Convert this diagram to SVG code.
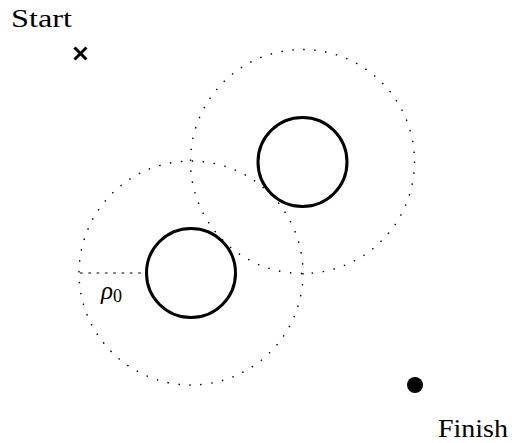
<svg xmlns="http://www.w3.org/2000/svg" width="514" height="443" viewBox="0 0 514 443">
<style>
.obs{fill:none;stroke:#000;stroke-width:3}
.inf{fill:none;stroke:#000;stroke-width:1.4;stroke-dasharray:1.5 9.5}
.rad{fill:none;stroke:#000;stroke-width:1.2;stroke-dasharray:2.7 5.6}
.lbl{font-family:"Liberation Serif","DejaVu Serif",serif;font-size:25px;fill:#000}
</style>
<rect width="514" height="443" fill="#fff"/>
<g id="start">
<text class="lbl" x="11" y="27" textLength="61" lengthAdjust="spacingAndGlyphs">Start</text>
<path d="M74.5 47.5 L86.5 59.5 M86.5 47.5 L74.5 59.5" stroke="#000" stroke-width="3" fill="none"/>
</g>
<g id="obstacle1">
<circle class="inf" cx="191" cy="273" r="112"/>
<circle class="obs" cx="191" cy="273" r="44.5"/>
</g>
<g id="obstacle2">
<circle class="inf" cx="302.5" cy="161.5" r="112"/>
<circle class="obs" cx="302.5" cy="162" r="44.5"/>
</g>
<g id="connectors">
<line class="rad" x1="80" y1="273" x2="146" y2="273"/>
</g>
<g id="rho">
<text class="lbl" x="101" y="299" font-style="italic" font-size="27">ρ<tspan font-style="normal" font-size="18" dy="3">0</tspan></text>
</g>
<g id="finish">
<circle cx="415" cy="385" r="8" fill="#000"/>
<text class="lbl" x="438" y="437" textLength="70" lengthAdjust="spacingAndGlyphs">Finish</text>
</g>
</svg>
